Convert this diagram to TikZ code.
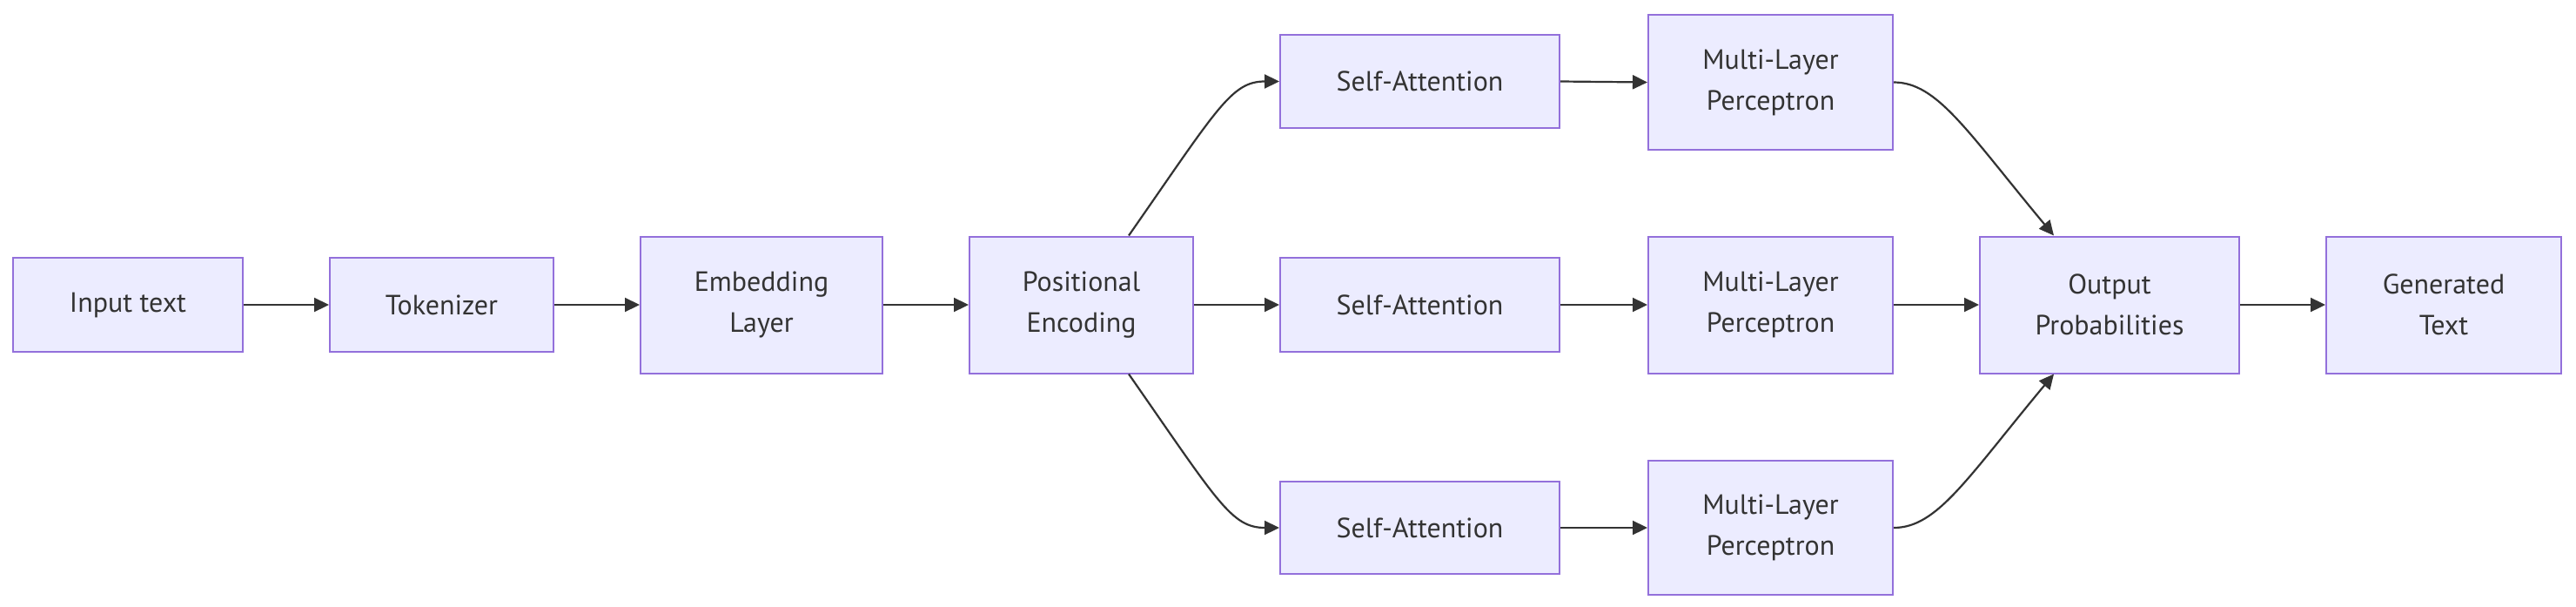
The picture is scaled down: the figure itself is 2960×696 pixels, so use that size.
\documentclass[tikz,border=0pt]{standalone}
\usepackage{fontspec}
\setmainfont{PT Sans}
\usetikzlibrary{arrows.meta,calc}
\definecolor{boxfill}{HTML}{ECECFF}
\definecolor{boxline}{HTML}{9370DB}
\definecolor{edgecol}{HTML}{333333}
\begin{document}
\begin{tikzpicture}[x=0.5pt,y=-0.5pt,
  box/.style={draw=boxline,fill=boxfill,line width=1pt,inner sep=0pt,
    align=center,font=\fontsize{16pt}{23.5pt}\selectfont,text=edgecol},
  edge/.style={draw=edgecol,line width=1.1pt,-{Triangle[length=8.5pt,width=8pt]}}]
\useasboundingbox (0,0) rectangle (2960,696);
\fill[white] (0,0) rectangle (2960,696);
\node[box,minimum width=132pt,minimum height=54pt] (in) at (147,350) {Input text};
\node[box,minimum width=128.5pt,minimum height=54pt] (tok) at (507.5,350) {Tokenizer};
\node[box,minimum width=139pt,minimum height=78.5pt] (emb) at (875,350) {Embedding\\Layer};
\node[box,minimum width=128.5pt,minimum height=78.5pt] (pos) at (1242.5,350) {Positional\\Encoding};
\node[box,minimum width=160.5pt,minimum height=53.5pt] (sa1) at (1631.5,93.5) {Self-Attention};
\node[box,minimum width=160.5pt,minimum height=54pt] (sa2) at (1631.5,350) {Self-Attention};
\node[box,minimum width=160.5pt,minimum height=53pt] (sa3) at (1631.5,606) {Self-Attention};
\node[box,minimum width=140.5pt,minimum height=77.5pt] (mlp1) at (2034.5,94.5) {Multi-Layer\\Perceptron};
\node[box,minimum width=140.5pt,minimum height=78.5pt] (mlp2) at (2034.5,350) {Multi-Layer\\Perceptron};
\node[box,minimum width=140.5pt,minimum height=77pt] (mlp3) at (2034.5,606) {Multi-Layer\\Perceptron};
\node[box,minimum width=149pt,minimum height=78.5pt] (out) at (2424,350) {Output\\Probabilities};
\node[box,minimum width=135pt,minimum height=78.5pt] (gen) at (2808,350) {Generated\\Text};
\draw[edge] (in.east) -- (tok.west);
\draw[edge] (tok.east) -- (emb.west);
\draw[edge] (emb.east) -- (pos.west);
\draw[edge] (pos.east) -- (sa2.west);
\draw[edge] ($(pos.north)+(54.5,0)$) .. controls ($(pos.north)+(157,-147)$) and ($(sa1.west)+(-55,0)$) .. (sa1.west);
\draw[edge] ($(pos.south)+(54.5,0)$) .. controls ($(pos.south)+(157,147)$) and ($(sa3.west)+(-55,0)$) .. (sa3.west);
\draw[edge] (sa1.east) -- (mlp1.west);
\draw[edge] (sa2.east) -- (mlp2.west);
\draw[edge] (sa3.east) -- (mlp3.west);
\draw[edge] (mlp1.east) .. controls ($(mlp1.east)+(50,0)$) and ($(out.north)+(-164,-120)$) .. ($(out.north)+(-64,0)$);
\draw[edge] (mlp2.east) -- (out.west);
\draw[edge] (mlp3.east) .. controls ($(mlp3.east)+(50,0)$) and ($(out.south)+(-164,120)$) .. ($(out.south)+(-64,0)$);
\draw[edge] (out.east) -- (gen.west);
\end{tikzpicture}
\end{document}
